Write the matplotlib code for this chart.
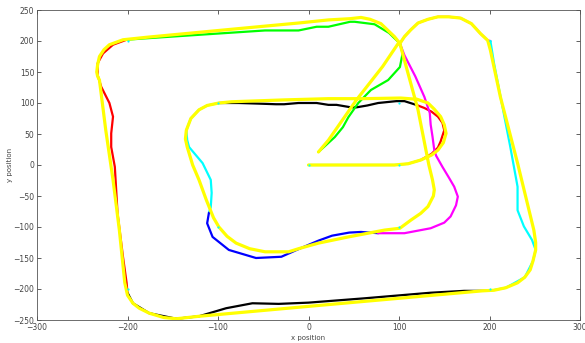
import matplotlib
matplotlib.use("Agg")
import matplotlib.pyplot as plt

# reference (yellow) trajectory
ref_x = [0, 95, 110, 124, 136, 143, 149, 152, 150, 146, 139, 132, 120, 102, 60, 22, -27, -85, -99,
         -112, -121, -130, -135, -136, -134, -128, -121, -113, -105, -99, -90, -80, -65, -48, -22, -11,
         11, 44, 84, 101, 113, 124, 132, 138, 139, 137, 133, 121, 106, 101, 106, 113, 121, 132, 143,
         155, 168, 180, 190, 198, 201, 212, 231, 249, 251, 251, 248, 245, 239, 231, 218, 205, 192,
         0, -121, -146, -160, -176, -187, -194, -200, -203, -209, -216, -224, -231, -233, -234, -233, -231,
         -226, -220, -205, -179, -121, -48, -11, 22, 46, 58, 68, 80, 90, 95, 100, 82, 53, 22, 11]
ref_y = [0, 0, 2, 8, 16, 24, 36, 51, 65, 78, 90, 100, 106, 108, 107, 107, 105, 102, 100,
         96, 89, 75, 56, 42, 29, 0, -24, -56, -85, -100, -115, -126, -135, -140, -140, -135,
         -126, -116, -105, -102, -89, -78, -67, -50, -40, -24, 0, 89, 169, 196, 207, 218, 229, 235, 239,
         239, 237, 228, 212, 201, 185, 110, 3, -105, -125, -137, -155, -169, -181, -190, -198, -202, -203,
         -228, -244, -248, -246, -239, -231, -223, -210, -190, -105, -24, 56, 137, 143, 150, 162, 175,
         186, 194, 202, 206, 214, 224, 229, 234, 236, 238, 235, 228, 214, 207, 198, 159, 105, 40, 21]

# actual trajectory, one list pair per colour segment
cyan1_x = [0, 95, 110, 124]
cyan1_y = [0, 0, 2, 8]
red1_x = [124, 136, 143, 146, 150, 148, 143, 136, 128, 119]
red1_y = [8, 18, 28, 38, 56, 68, 78, 86, 92, 97]
black1_x = [119, 106, 97, 77, 65, 53, 47, 31, 22, 9, -11, -27, -36, -55, -77, -99]
black1_y = [97, 103, 103, 100, 96, 93, 93, 97, 97, 100, 100, 98, 98, 99, 100, 100]
cyan2_x = [-99, -112, -121, -130, -135, -134, -132, -117, -108, -107, -108, -110]
cyan2_y = [100, 96, 89, 75, 56, 40, 29, 3, -24, -45, -68, -77]
blue_x = [-110, -112, -106, -88, -58, -30, -10, 11, 26, 45, 58, 77]
blue_y = [-77, -94, -116, -137, -150, -148, -135, -122, -114, -109, -108, -110]
magenta_x = [77, 106, 135, 150, 157, 163, 165, 161, 155, 148, 141, 139, 137, 135, 134, 128, 118, 106, 101,
             106, 113, 121, 132, 143, 155, 168, 180, 190, 198, 201]
magenta_y = [-110, -110, -102, -93, -83, -65, -51, -35, -20, -3, 15, 24, 46, 65, 84, 110, 143, 177, 196,
             207, 218, 229, 235, 239, 239, 237, 228, 212, 201, 200]
cyan3_x = [201, 205, 223, 231, 231, 238, 247, 251, 248, 239, 218, 200]
cyan3_y = [200, 164, 29, -35, -73, -99, -121, -137, -155, -181, -198, -203]
black2_x = [200, 172, 135, 62, 0, -33, -62, -91, -121, -146, -176, -194, -200]
black2_y = [-203, -203, -206, -215, -222, -224, -223, -231, -244, -248, -239, -223, -206]
red2_x = [-200, -201, -205, -211, -214, -218, -218, -216, -220, -229, -233, -233, -227, -216, -201]
red2_y = [-206, -190, -148, -78, -3, 29, 51, 78, 100, 126, 145, 164, 180, 194, 202]
green_x = [-201, -183, -121, -48, -27, -11, 9, 22, 46, 51, 73, 89, 101, 104, 101, 88, 69, 55, 44, 38, 29, 11]
green_y = [202, 204, 210, 217, 217, 217, 223, 223, 231, 231, 227, 213, 196, 180, 158, 137, 121, 100, 77, 61, 45, 21]

# waypoints
wp_x = [0, 100, 100, -100, -100, 100, 200, 200, -200, -200]
wp_y = [0, 0, 100, 100, -100, -100, 200, -200, -200, 200]

segments = [
    (cyan1_x, cyan1_y, "#00ffff"),
    (red1_x, red1_y, "#ff0000"),
    (black1_x, black1_y, "#000000"),
    (cyan2_x, cyan2_y, "#00ffff"),
    (blue_x, blue_y, "#0000ff"),
    (magenta_x, magenta_y, "#ff00ff"),
    (cyan3_x, cyan3_y, "#00ffff"),
    (black2_x, black2_y, "#000000"),
    (red2_x, red2_y, "#ff0000"),
    (green_x, green_y, "#00ff00"),
]

fig = plt.figure(figsize=(5.85, 3.43), dpi=100)
ax = fig.add_axes([37 / 585, 23 / 343, 543 / 585, 310 / 343])

for xs, ys, col in segments:
    ax.plot(xs, ys, color=col, linewidth=1.6, solid_joinstyle="round", solid_capstyle="round")

ax.plot(ref_x, ref_y, color="#ffff00", linewidth=2.3, solid_joinstyle="round", solid_capstyle="round")
ax.plot(wp_x, wp_y, linestyle="none", marker="o", markersize=1.6, color="#00ffff", markeredgewidth=0)

ax.set_xlim(-300, 300)
ax.set_ylim(-250, 250)
ax.set_xticks(range(-300, 301, 100))
ax.set_yticks(range(-250, 251, 50))

ax.tick_params(direction="in", length=3, width=0.6, labelsize=5.5, labelcolor="#444444",
               top=True, right=True, color="#444444", pad=2)
for sp in ax.spines.values():
    sp.set_linewidth(0.6)
    sp.set_color("#555555")

ax.set_xlabel("x position", fontsize=5, color="#444444", labelpad=2)
ax.set_ylabel("y position", fontsize=5, color="#444444", labelpad=0)

fig.savefig("out.png", dpi=100)
